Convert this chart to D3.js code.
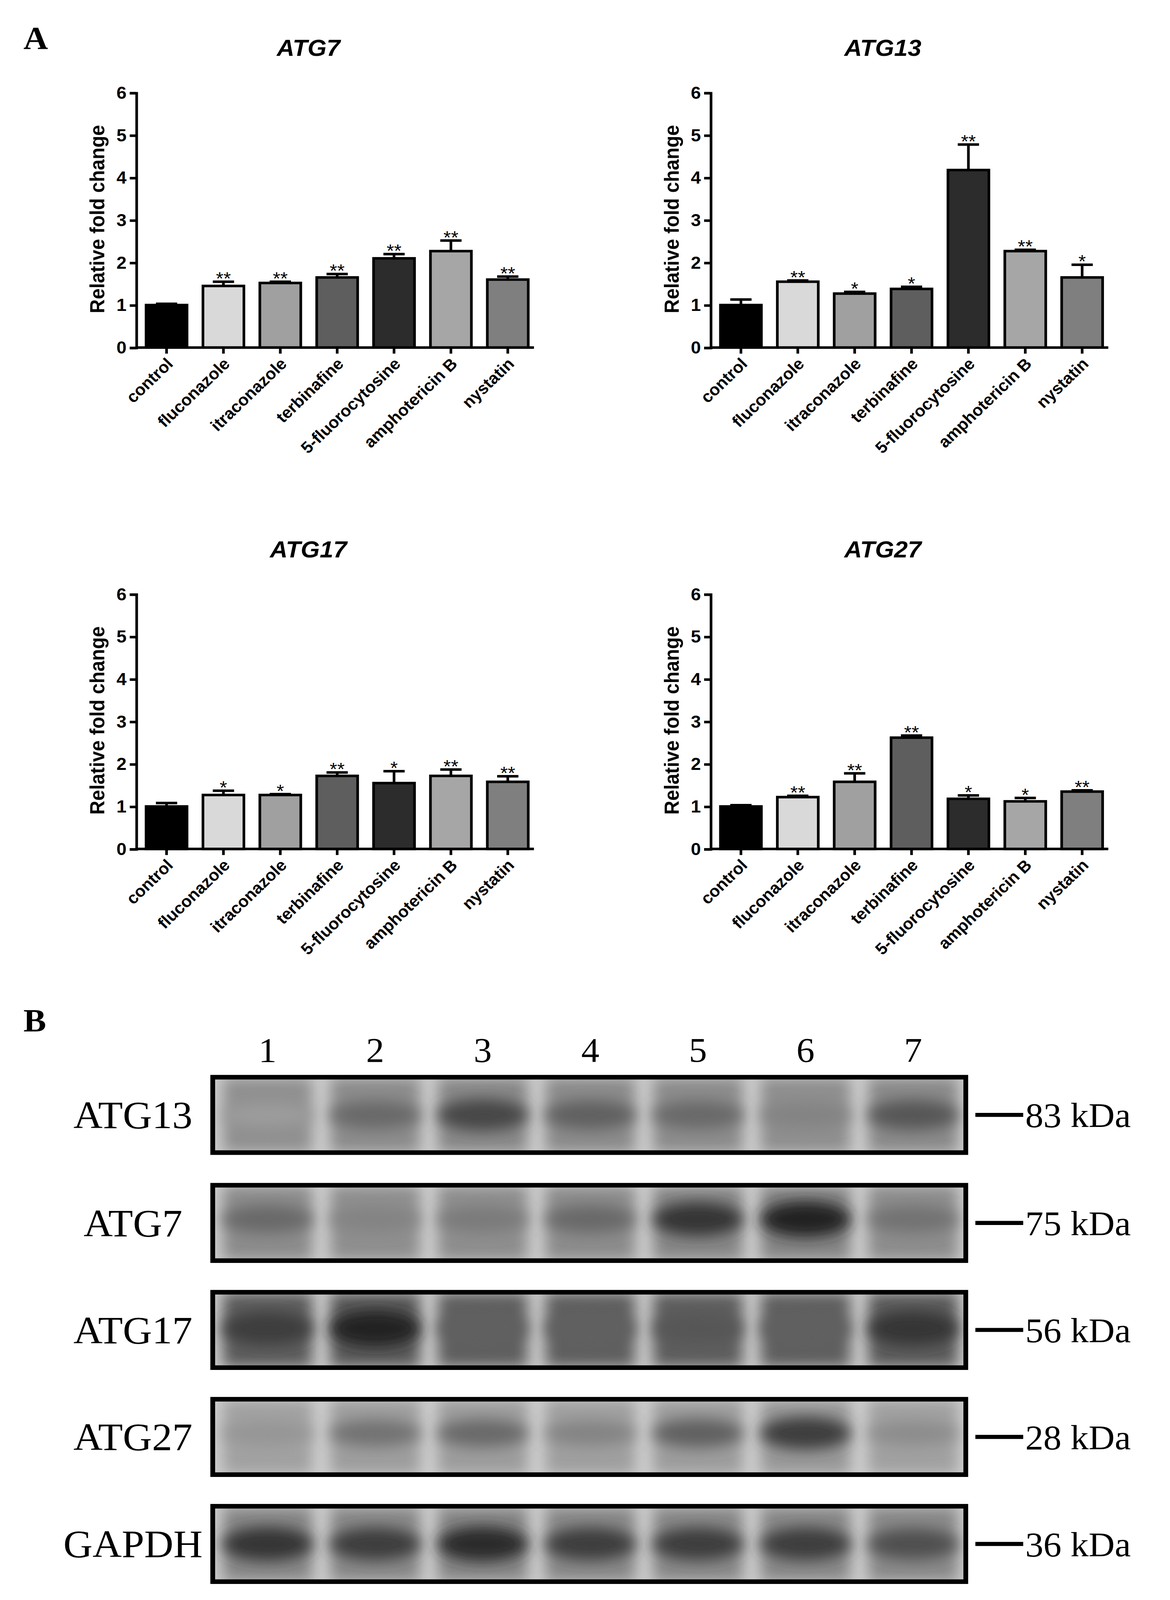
<!DOCTYPE html>
<html><head><meta charset="utf-8">
<script src="https://cdn.jsdelivr.net/npm/d3@7"></script>
<style>html,body{margin:0;padding:0;overflow:hidden;background:#fff} svg{display:block}</style>
</head><body>
<script>
// bar chart data
var drugs = ["control", "fluconazole", "itraconazole", "terbinafine", "5-fluorocytosine", "amphotericin B", "nystatin"];
var barColors = ["#000000", "#d9d9d9", "#a0a0a0", "#5e5e5e", "#2c2c2c", "#a6a6a6", "#7f7f7f"];
var yTicks = [0, 1, 2, 3, 4, 5, 6];

var atg7Mean = [1.0, 1.45, 1.52, 1.65, 2.1, 2.27, 1.6];
var atg7Err = [0.03, 0.1, 0.03, 0.08, 0.1, 0.25, 0.07];
var atg7Sig = ["", "**", "**", "**", "**", "**", "**"];
var atg13Mean = [1.0, 1.55, 1.27, 1.38, 4.18, 2.27, 1.65];
var atg13Err = [0.13, 0.03, 0.04, 0.05, 0.6, 0.03, 0.3];
var atg13Sig = ["", "**", "*", "*", "**", "**", "*"];
var atg17Mean = [1.0, 1.27, 1.27, 1.72, 1.55, 1.72, 1.58];
var atg17Err = [0.08, 0.1, 0.02, 0.08, 0.28, 0.15, 0.13];
var atg17Sig = ["", "*", "*", "**", "*", "**", "**"];
var atg27Mean = [1.0, 1.22, 1.58, 2.62, 1.18, 1.12, 1.35];
var atg27Err = [0.03, 0.03, 0.2, 0.05, 0.08, 0.08, 0.03];
var atg27Sig = ["", "**", "**", "**", "*", "*", "**"];

// western blot data
var lanes = ["1", "2", "3", "4", "5", "6", "7"];
var blotNames = ["ATG13", "ATG7", "ATG17", "ATG27", "GAPDH"];
var blotSizes = ["83 kDa", "75 kDa", "56 kDa", "28 kDa", "36 kDa"];
var bandATG13 = [0.25, 0.55, 0.75, 0.6, 0.55, 0.4, 0.65];
var bandATG7 = [0.55, 0.4, 0.45, 0.55, 0.85, 0.95, 0.5];
var bandATG17 = [0.8, 0.95, 0.6, 0.6, 0.65, 0.6, 0.85];
var bandATG27 = [0.3, 0.5, 0.55, 0.4, 0.6, 0.8, 0.35];
var bandGAPDH = [0.85, 0.8, 0.9, 0.8, 0.8, 0.8, 0.7];

var W = window.innerWidth || 2996, H = window.innerHeight || 4275;
var svg = d3.select("body").append("svg")
  .attr("width", W).attr("height", H)
  .attr("viewBox", "0 0 1100 1570")
  .attr("preserveAspectRatio", "none");

var defs = svg.append("defs");
defs.append("filter").attr("id", "blur").attr("x", "-50%").attr("y", "-100%").attr("width", "200%").attr("height", "300%")
  .append("feGaussianBlur").attr("stdDeviation", 7);

svg.append("text").attr("x", 22).attr("y", 48).text("A")
  .attr("font-family", "Liberation Serif").attr("font-weight", "bold").attr("font-size", 32);
svg.append("text").attr("x", 22).attr("y", 1012).text("B")
  .attr("font-family", "Liberation Serif").attr("font-weight", "bold").attr("font-size", 32);

var panels = [
  {title: "ATG7", mean: atg7Mean, err: atg7Err, sig: atg7Sig, x0: 128, y0: 341},
  {title: "ATG13", mean: atg13Mean, err: atg13Err, sig: atg13Sig, x0: 668, y0: 341},
  {title: "ATG17", mean: atg17Mean, err: atg17Err, sig: atg17Sig, x0: 128, y0: 833},
  {title: "ATG27", mean: atg27Mean, err: atg27Err, sig: atg27Sig, x0: 668, y0: 833}
];

panels.forEach(function(p) {
  var g = svg.append("g");
  var x = d3.scaleBand().domain(drugs).range([p.x0 + 4, p.x0 + 374]).paddingInner(0.28).paddingOuter(0.1);
  var y = d3.scaleLinear().domain([0, 6]).range([p.y0, p.y0 - 250]);

  g.append("text").attr("x", p.x0 + 162).attr("y", p.y0 - 286).attr("text-anchor", "middle")
    .attr("font-family", "Liberation Sans").attr("font-weight", "bold").attr("font-style", "italic")
    .attr("font-size", 23).text(p.title);

  var ya = g.append("g").attr("transform", "translate(" + p.x0 + ",0)")
    .call(d3.axisLeft(y).tickValues(yTicks).tickFormat(d3.format("d")).tickSize(6).tickPadding(3));
  var xa = g.append("g").attr("transform", "translate(0," + p.y0 + ")")
    .call(d3.axisBottom(x).tickSize(6).tickSizeOuter(0));
  xa.select(".domain").attr("d", "M" + p.x0 + ",0H" + (p.x0 + 374));
  [ya, xa].forEach(function(a) {
    a.selectAll("path,line").attr("stroke", "#000").attr("stroke-width", 2.5);
    a.selectAll("text").attr("font-family", "Liberation Sans").attr("font-weight", "bold")
      .attr("font-size", 16).attr("fill", "#000");
  });
  ya.selectAll("text").attr("font-size", 17);
  xa.selectAll("text").attr("text-anchor", "end").attr("dy", null).attr("y", 0)
    .attr("transform", "translate(7,17) rotate(-45)");

  g.append("text").attr("transform", "translate(" + (p.x0 - 30) + "," + (p.y0 - 126) + ") rotate(-90)")
    .attr("text-anchor", "middle").attr("font-family", "Liberation Sans").attr("font-weight", "bold")
    .attr("font-size", 19).text("Relative fold change");

  drugs.forEach(function(d, i) {
    var cx = x(d) + x.bandwidth() / 2;
    var top = y(p.mean[i] + p.err[i]);
    g.append("line").attr("x1", cx).attr("x2", cx).attr("y1", y(p.mean[i])).attr("y2", top)
      .attr("stroke", "#000").attr("stroke-width", 2.5);
    g.append("line").attr("x1", cx - 10).attr("x2", cx + 10).attr("y1", top).attr("y2", top)
      .attr("stroke", "#000").attr("stroke-width", 2.5);
    g.append("rect").attr("x", x(d)).attr("width", x.bandwidth())
      .attr("y", y(p.mean[i])).attr("height", y(0) - y(p.mean[i]))
      .attr("fill", barColors[i]).attr("stroke", "#000").attr("stroke-width", 2.5);
    if (p.sig[i]) {
      g.append("text").attr("x", cx).attr("y", top + 3).attr("text-anchor", "middle")
        .attr("font-family", "Liberation Sans").attr("font-size", 18).text(p.sig[i]);
    }
  });
});

// Blots
var bands = [bandATG13, bandATG7, bandATG17, bandATG27, bandGAPDH];
var bandPos = [0.5, 0.45, 0.48, 0.45, 0.5];
var bgShade = [0.3, 0.3, 0.55, 0.2, 0.3];
var rowTop = [1057, 1163, 1268, 1373, 1478];
var bx = d3.scaleBand().domain(lanes).range([205, 905]).paddingInner(0.16).paddingOuter(0.04);
var grey = d3.scaleLinear().domain([0, 1]).range(["#c9c9c9", "#1a1a1a"]);

lanes.forEach(function(l) {
  svg.append("text").attr("x", bx(l) + bx.bandwidth() / 2).attr("y", 1042).attr("text-anchor", "middle")
    .attr("font-family", "Liberation Serif").attr("font-size", 34).text(l);
});

blotNames.forEach(function(name, r) {
  var top = rowTop[r], h = 74;
  var g = svg.append("g");
  g.append("rect").attr("x", 200).attr("y", top).attr("width", 708).attr("height", h).attr("fill", "#d0d0d0");
  var clip = "clip" + r;
  defs.append("clipPath").attr("id", clip).append("rect").attr("x", 200).attr("y", top).attr("width", 708).attr("height", h);
  var inner = g.append("g").attr("clip-path", "url(#" + clip + ")");
  lanes.forEach(function(l, i) {
    inner.append("rect").attr("x", bx(l)).attr("y", top).attr("width", bx.bandwidth()).attr("height", h)
      .attr("fill", grey(bgShade[r] + 0.1 * bands[r][i])).attr("filter", "url(#blur)");
    inner.append("ellipse").attr("cx", bx(l) + bx.bandwidth() / 2).attr("cy", top + h * bandPos[r])
      .attr("rx", bx.bandwidth() * 0.5).attr("ry", 8 + 10 * bands[r][i])
      .attr("fill", grey(bands[r][i])).attr("filter", "url(#blur)");
  });
  g.append("rect").attr("x", 200).attr("y", top).attr("width", 708).attr("height", h)
    .attr("fill", "none").attr("stroke", "#000").attr("stroke-width", 4.5);
  g.append("text").attr("x", 125).attr("y", top + h / 2 + 13).attr("text-anchor", "middle")
    .attr("font-family", "Liberation Serif").attr("font-size", 38).text(name);
  g.append("line").attr("x1", 917).attr("x2", 962).attr("y1", top + h / 2).attr("y2", top + h / 2)
    .attr("stroke", "#000").attr("stroke-width", 4);
  g.append("text").attr("x", 964).attr("y", top + h / 2 + 12).attr("font-family", "Liberation Serif")
    .attr("font-size", 34).text(blotSizes[r]);
});
</script>
</body></html>
